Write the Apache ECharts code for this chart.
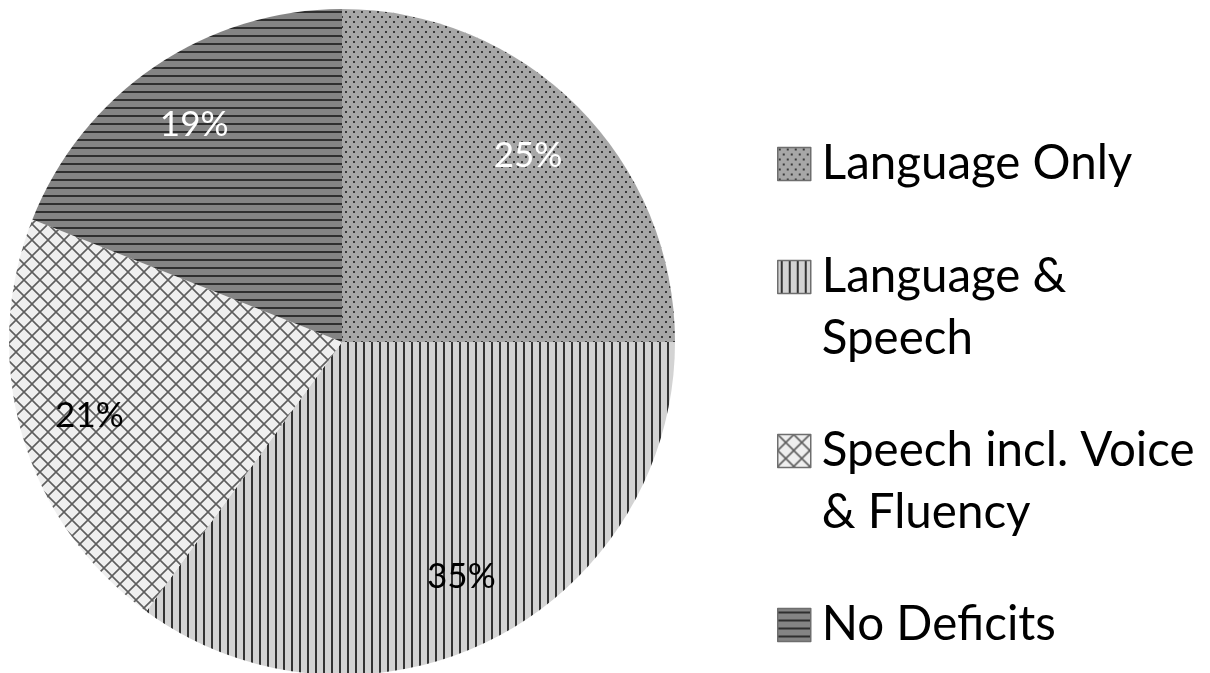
<!DOCTYPE html>
<html>
<head>
<meta charset="utf-8">
<script src="https://cdn.jsdelivr.net/npm/echarts@6/dist/echarts.min.js"></script>
<style>html,body{margin:0;padding:0;background:#fff;}#c{width:1210px;height:673px;}</style>
</head>
<body>
<div id="c"></div>
<script>
var categories = ['Language Only', 'Language & Speech', 'Speech incl. Voice & Fluency', 'No Deficits'];
var values = [25, 35, 21, 19];
var legendLines = [['Language Only'], ['Language &', 'Speech'], ['Speech incl. Voice', '& Fluency'], ['No Deficits']];
var labelColors = ['#ffffff', '#000000', '#000000', '#ffffff'];

function mk(w, h, draw) {
  var c = document.createElement('canvas');
  c.width = w; c.height = h;
  var g = c.getContext('2d');
  draw(g, w, h);
  return c;
}
var patDots = mk(8, 10, function (g, w, h) {
  g.fillStyle = '#a7a7a7'; g.fillRect(0, 0, w, h);
  g.fillStyle = '#3a3a3a';
  g.fillRect(1, 1, 2, 2);
  g.fillRect(5, 6, 2, 2);
});
var patVert = mk(8, 8, function (g, w, h) {
  g.fillStyle = '#d3d3d3'; g.fillRect(0, 0, w, h);
  g.fillStyle = '#333333'; g.fillRect(3, 0, 2, h);
});
var patLattice = mk(16, 16, function (g, w, h) {
  g.fillStyle = '#efefef'; g.fillRect(0, 0, w, h);
  g.strokeStyle = '#5e5e5e'; g.lineWidth = 1.6;
  g.beginPath();
  g.moveTo(0, 0); g.lineTo(16, 16);
  g.moveTo(16, 0); g.lineTo(0, 16);
  g.stroke();
});
var patHorz = mk(8, 8, function (g, w, h) {
  g.fillStyle = '#848484'; g.fillRect(0, 0, w, h);
  g.fillStyle = '#2f2f2f'; g.fillRect(0, 3, w, 2);
});
var patterns = [patDots, patVert, patLattice, patHorz];

var pieData = categories.map(function (n, i) {
  return { name: n, value: values[i], itemStyle: { color: { image: patterns[i], repeat: 'repeat' } } };
});
var labelData = categories.map(function (n, i) {
  return { name: n, value: values[i], label: { color: labelColors[i] } };
});

var legendTops = [133, 184, 358, 594];
var legends = categories.map(function (n, i) {
  return {
    data: [n],
    orient: 'vertical',
    left: 777,
    top: legendTops[i],
    padding: 0,
    itemWidth: 33,
    itemHeight: 33,
    icon: 'rect',
    selectedMode: false,
    itemStyle: { borderColor: '#6e6e6e', borderWidth: 1.5 },
    formatter: function () {
      var l = legendLines[i];
      return l.length > 1 ? '\n' + l.join('\n') : l[0];
    },
    textStyle: { fontFamily: 'Lato', fontSize: 47.5, lineHeight: 62, color: '#000', padding: [0, 0, 0, 6] }
  };
});

var chart = echarts.init(document.getElementById('c'), null, { renderer: 'canvas' });
chart.setOption({
  backgroundColor: '#ffffff',
  animation: false,
  legend: legends,
  series: [
    {
      type: 'pie',
      center: [342, 342],
      radius: [0, 333],
      startAngle: 90,
      clockwise: true,
      label: { show: false },
      labelLine: { show: false },
      itemStyle: { borderWidth: 0 },
      emphasis: { disabled: true },
      data: pieData
    },
    {
      type: 'pie',
      center: [342, 342],
      radius: [180, 340],
      startAngle: 90,
      clockwise: true,
      silent: true,
      itemStyle: { color: 'rgba(0,0,0,0)' },
      label: {
        show: true,
        position: 'inside',
        formatter: '{c}%',
        fontFamily: 'Lato',
        fontWeight: 'normal',
        fontSize: 35
      },
      labelLine: { show: false },
      emphasis: { disabled: true },
      data: labelData
    }
  ]
});
</script>
</body>
</html>
